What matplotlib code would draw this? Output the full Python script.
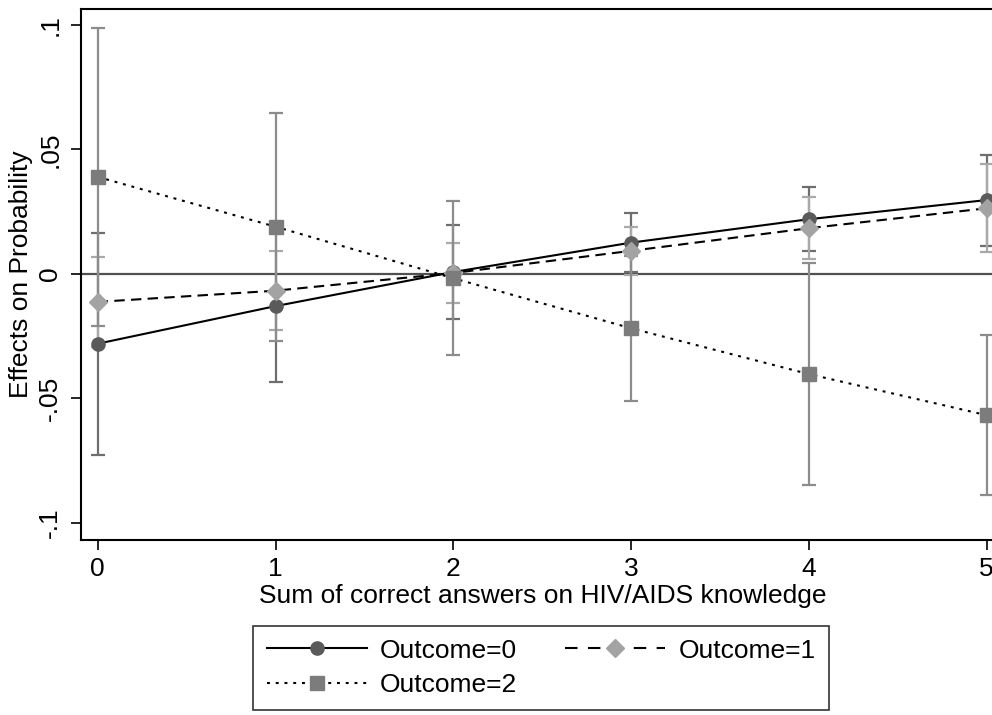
import matplotlib
matplotlib.use("Agg")
import matplotlib.pyplot as plt
from matplotlib.lines import Line2D

plt.rcParams['font.family'] = ['Liberation Sans', 'DejaVu Sans']

# Data
x = [0, 1, 2, 3, 4, 5]
o0 = [-0.028, -0.0129, 0.0008, 0.0126, 0.022, 0.0297]
o0_lo = [-0.0726, -0.0433, -0.0182, 0.0008, 0.0092, 0.0112]
o0_hi = [0.0166, 0.0175, 0.0197, 0.0244, 0.0348, 0.0479]
o1 = [-0.0112, -0.0067, 0.0004, 0.0093, 0.0184, 0.0264]
o1_lo = [-0.0294, -0.0225, -0.0118, -0.0004, 0.006, 0.0088]
o1_hi = [0.007, 0.0091, 0.0126, 0.019, 0.0308, 0.0442]
o2 = [0.039, 0.019, -0.0017, -0.0218, -0.0402, -0.0567]
o2_lo = [-0.021, -0.0268, -0.0325, -0.0509, -0.0847, -0.0888]
o2_hi = [0.0989, 0.0648, 0.0294, 0.0073, 0.0043, -0.0245]
labels = ["Outcome=0", "Outcome=1", "Outcome=2"]
yticks = [-0.1, -0.05, 0, 0.05, 0.1]
yticklabels = ["-.1", "-.05", "0", ".05", ".1"]

FS = 19
W, H = 992, 715
fig = plt.figure(figsize=(W / 100, H / 100), dpi=100)
ax = fig.add_axes([81 / W, 1 - 540 / H, (1004 - 81) / W, (540 - 9.3) / H])

# x pixel mapping: x=0 at 97.7, 177.8 px/unit
xl = -(97.7 - 81) / 177.8
xr = (1004 - 97.7) / 177.8
ax.set_xlim(xl, xr)
ax.set_ylim(-(540 - 274) / 2490, (274 - 9.3) / 2490)

ax.axhline(0, color='#505050', lw=1.6, zorder=1)

mark_cols = ['#5a5a5a', '#a3a3a3', '#7c7c7c']
bar_cols = ['#6e6e6e', '#a9a9a9', '#8c8c8c']
series = [(o0, o0_lo, o0_hi), (o1, o1_lo, o1_hi), (o2, o2_lo, o2_hi)]
for i, (m, lo, hi) in enumerate(series):
    yerr = [[mm - l for mm, l in zip(m, lo)], [h - mm for mm, h in zip(m, hi)]]
    ax.errorbar(x, m, yerr=yerr, fmt='none', ecolor=bar_cols[i], elinewidth=1.6,
                capsize=5.0, capthick=1.6, zorder=2 + i * 0.1)

lw = 1.5
styles = [dict(ls='-'), dict(ls=(0, (5.0, 3.0))), dict(ls=(0, (1.4, 2.8)))]
markers = [dict(marker='o', ms=9.5), dict(marker='D', ms=9.5), dict(marker='s', ms=10.5)]
for i, (m, lo, hi) in enumerate(series):
    ax.plot(x, m, color='black', lw=lw, zorder=3 + i * 0.1,
            mfc=mark_cols[i], mec=mark_cols[i], **styles[i], **markers[i])

ax.set_xticks(x)
ax.set_xticklabels([str(v) for v in x], fontsize=FS)
ax.set_yticks(yticks)
ax.set_yticklabels(yticklabels, fontsize=FS, rotation=90, va='center')
ax.tick_params(axis='both', direction='out', length=7.5, width=1.2, color='black')
ax.tick_params(axis='x', pad=5)
ax.tick_params(axis='y', pad=6)
for s in ax.spines.values():
    s.set_color('black')
    s.set_linewidth(1.5)

ax.set_xlabel("Sum of correct answers on HIV/AIDS knowledge", fontsize=FS, labelpad=2)
ax.set_ylabel("Effects on Probability", fontsize=FS, labelpad=4)

# Legend with proxy handles (column-major fill: col1 = 0, 2; col2 = 1)
h0 = Line2D([], [], color='black', lw=lw, ls='-', marker='o', ms=9.5,
            mfc=mark_cols[0], mec=mark_cols[0])
h1 = Line2D([], [], color='black', lw=lw, ls=(0, (6.0, 5.0)), marker='D', ms=9.5,
            mfc=mark_cols[1], mec=mark_cols[1])
h2 = Line2D([], [], color='black', lw=lw, ls=(0, (1.4, 2.8)), marker='s', ms=10.5,
            mfc=mark_cols[2], mec=mark_cols[2])
leg = fig.legend([h0, h2, h1], [labels[0], labels[2], labels[1]], ncol=2, loc='center',
                 bbox_to_anchor=((252 + 830) / 2 / W, 1 - (624 + 712) / 2 / H),
                 fontsize=FS, frameon=True, fancybox=False, edgecolor='black',
                 handlelength=3.8, handletextpad=0.5, columnspacing=1.8,
                 labelspacing=0.4, borderpad=0.5, numpoints=1)
leg.get_frame().set_linewidth(1.2)

fig.savefig("out.png", dpi=100)
